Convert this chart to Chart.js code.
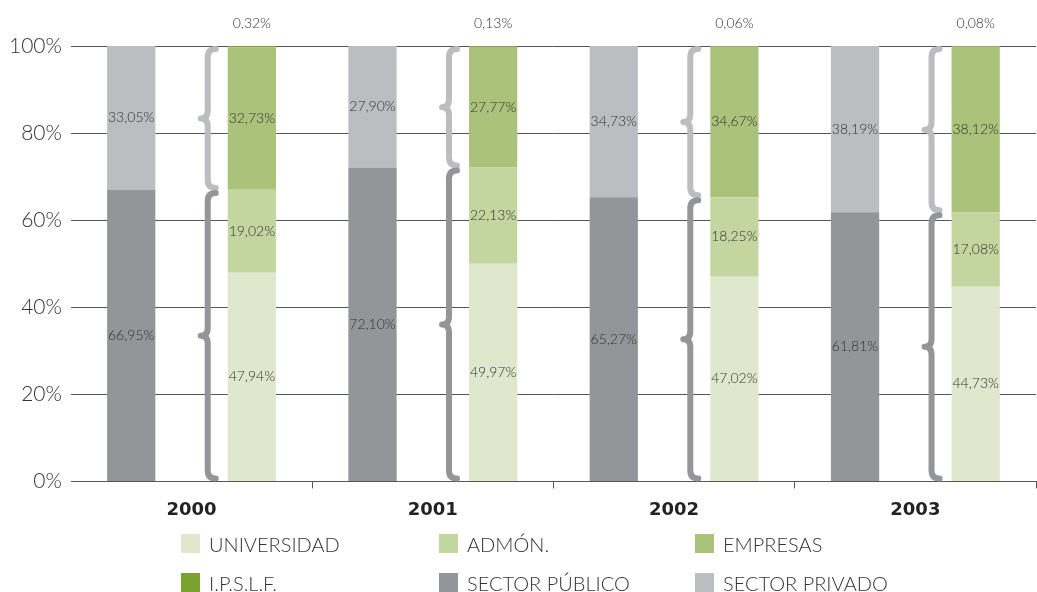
<!DOCTYPE html>
<html>
<head>
<meta charset="utf-8">
<script src="https://cdn.jsdelivr.net/npm/chart.js@4"></script>
<style>
  html, body { margin: 0; padding: 0; background: #fff; }
  #wrap { position: relative; width: 1037px; height: 592px; }
  #box { position: absolute; left: 0; top: 0; width: 1037px; height: 534px; }
  #legend { position: absolute; left: 0; top: 0; width: 1037px; height: 592px; pointer-events: none; }
  .item { position: absolute; display: flex; align-items: center; font-family: Lato, "Open Sans", sans-serif; font-weight: 300; font-size: 20px; color: #333; white-space: nowrap; }
  .sw { width: 19px; height: 19px; margin-right: 9px; }
</style>
</head>
<body>
<div id="wrap">
  <div id="box"><canvas id="occupancyChart"></canvas></div>
  <div id="legend"></div>
</div>
<script>
document.addEventListener('DOMContentLoaded', () => {
    const ctx = document.getElementById('occupancyChart').getContext('2d');

    // Data
    const years = ['2000', '2001', '2002', '2003'];
    const yTicks = [0, 20, 40, 60, 80, 100];

    const sectorPublico = [66.95, 72.10, 65.27, 61.81];
    const sectorPrivado = [33.05, 27.90, 34.73, 38.19];
    const universidad = [47.94, 49.97, 47.02, 44.73];
    const admon = [19.02, 22.13, 18.25, 17.08];
    const empresas = [32.73, 27.77, 34.67, 38.12];
    const ipslf = [0.32, 0.13, 0.06, 0.08];

    const COLORS = {
        universidad: '#dfe8cc',
        admon: '#c4d69f',
        empresas: '#aac27a',
        ipslf: '#79a22f',
        publico: '#939598',
        privado: '#bcbdc0'
    };

    const fmt = v => v.toFixed(2).replace('.', ',') + '%';

    const datasets = [
        { label: 'SECTOR PÚBLICO', data: sectorPublico, backgroundColor: COLORS.publico, stack: 'sector' },
        { label: 'SECTOR PRIVADO', data: sectorPrivado, backgroundColor: COLORS.privado, stack: 'sector' },
        { label: 'UNIVERSIDAD', data: universidad, backgroundColor: COLORS.universidad, stack: 'ejec' },
        { label: 'ADMÓN.', data: admon, backgroundColor: COLORS.admon, stack: 'ejec' },
        { label: 'EMPRESAS', data: empresas, backgroundColor: COLORS.empresas, stack: 'ejec' },
        { label: 'I.P.S.L.F.', data: ipslf, backgroundColor: COLORS.ipslf, stack: 'ejec', above: true }
    ];

    const legendOrder = ['UNIVERSIDAD', 'ADMÓN.', 'EMPRESAS', 'I.P.S.L.F.', 'SECTOR PÚBLICO', 'SECTOR PRIVADO'];

    // values inside the bars, ipslf goes above
    const valueLabels = {
        id: 'valueLabels',
        afterDatasetsDraw(chart) {
            const c = chart.ctx;
            c.save();
            c.font = '300 14px Lato, "Open Sans", sans-serif';
            c.fillStyle = '#333';
            c.textAlign = 'center';
            c.textBaseline = 'middle';
            chart.data.datasets.forEach((ds, di) => {
                const meta = chart.getDatasetMeta(di);
                meta.data.forEach((bar, i) => {
                    const txt = fmt(ds.data[i]);
                    if (ds.above) {
                        c.fillText(txt, bar.x, chart.scales.y.getPixelForValue(100) - 23);
                    } else {
                        c.fillText(txt, bar.x, (bar.y + bar.base) / 2);
                    }
                });
            });
            c.restore();
        }
    };

    // curly braces showing the public / private split next to the second bar
    function brace(c, xr, top, bottom, color) {
        const xm = xr - 8;
        const xl = xr - 15;
        const mid = (top + bottom) / 2;
        const r = 8;
        c.beginPath();
        c.moveTo(xr, top);
        c.quadraticCurveTo(xm, top, xm, top + r);
        c.lineTo(xm, mid - r);
        c.quadraticCurveTo(xm, mid, xl, mid);
        c.quadraticCurveTo(xm, mid, xm, mid + r);
        c.lineTo(xm, bottom - r);
        c.quadraticCurveTo(xm, bottom, xr, bottom);
        c.strokeStyle = color;
        c.lineWidth = 6;
        c.lineCap = 'round';
        c.lineJoin = 'round';
        c.stroke();
    }

    const braces = {
        id: 'braces',
        afterDatasetsDraw(chart) {
            const c = chart.ctx;
            const y = chart.scales.y;
            const meta = chart.getDatasetMeta(2);
            c.save();
            meta.data.forEach((bar, i) => {
                const xr = bar.x - bar.width / 2 - 12;
                const yTop = y.getPixelForValue(100);
                const ySplit = y.getPixelForValue(sectorPublico[i]);
                const yBot = y.getPixelForValue(0);
                brace(c, xr, yTop + 3, ySplit - 2, COLORS.privado);
                brace(c, xr, ySplit + 3, yBot - 3, COLORS.publico);
            });
            c.restore();
        }
    };

    new Chart(ctx, {
        type: 'bar',
        data: { labels: years, datasets: datasets },
        options: {
            responsive: true,
            maintainAspectRatio: false,
            animation: false,
            datasets: { bar: { categoryPercentage: 1.0, barPercentage: 0.4 } },
            layout: { padding: { top: 46, right: 1, bottom: 2, left: 0 } },
            plugins: {
                legend: { display: false },
                tooltip: { enabled: false }
            },
            scales: {
                x: {
                    stacked: true,
                    grid: {
                        drawOnChartArea: false,
                        drawTicks: true,
                        tickLength: 7,
                        color: (c) => (c.index === 0 ? 'rgba(0,0,0,0)' : '#555')
                    },
                    border: { display: false },
                    ticks: {
                        color: '#222',
                        padding: 11,
                        font: { family: '"DejaVu Sans", sans-serif', weight: 'bold', size: 18 }
                    }
                },
                y: {
                    stacked: true,
                    min: 0,
                    max: 100,
                    afterBuildTicks: (axis) => { axis.ticks = yTicks.map(v => ({ value: v })); },
                    grid: { color: '#555', drawTicks: false },
                    border: { display: false },
                    ticks: {
                        color: '#333',
                        padding: 9,
                        font: { family: 'Lato, "Open Sans", sans-serif', weight: '300', size: 21 },
                        callback: v => v + '%'
                    }
                }
            }
        },
        plugins: [valueLabels, braces]
    });

    // legend (3 columns x 2 rows)
    const legendEl = document.getElementById('legend');
    const colX = [181, 439, 695];
    const rowY = [534, 573];
    legendOrder.forEach((name, k) => {
        const ds = datasets.find(d => d.label === name);
        const item = document.createElement('div');
        item.className = 'item';
        item.style.left = colX[k % 3] + 'px';
        item.style.top = rowY[Math.floor(k / 3)] + 'px';
        item.style.height = '19px';
        const sw = document.createElement('span');
        sw.className = 'sw';
        sw.style.background = ds.backgroundColor;
        const tx = document.createElement('span');
        tx.textContent = name;
        item.appendChild(sw);
        item.appendChild(tx);
        legendEl.appendChild(item);
    });
});
</script>
</body>
</html>
